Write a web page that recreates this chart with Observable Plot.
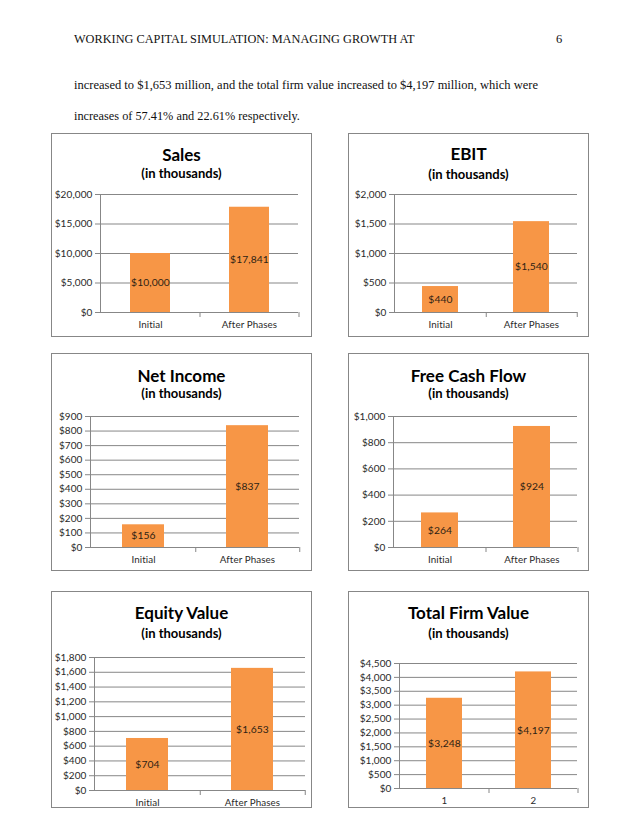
<!DOCTYPE html>
<html>
<head>
<meta charset="utf-8">
<script src="https://cdn.jsdelivr.net/npm/d3@7"></script>
<script src="https://cdn.jsdelivr.net/npm/@observablehq/plot@0.6"></script>
<style>
  html, body { margin: 0; padding: 0; background: #fff; }
  #page { position: relative; width: 638px; height: 826px; background: #fff; overflow: hidden; }
  .serif { position: absolute; font-family: "Liberation Serif", "Times New Roman", serif; color: #111; white-space: nowrap; }
  .panel { position: absolute; box-sizing: border-box; border: 1.3px solid #878787; background: #fff; }
  .ttl { position: absolute; font-family: Lato, "Open Sans", sans-serif; font-weight: 700; color: #000; text-align: center; white-space: nowrap; transform: translate(-50%, -50%); }
  .chart { position: absolute; }
</style>
</head>
<body>
<div id="page"></div>
<script>
// ---- data ----
const categories = ["Initial", "After Phases"];
const firmCategories = ["1", "2"];
const salesValues = [10000, 17841];
const ebitValues = [440, 1540];
const netIncomeValues = [156, 837];
const fcfValues = [264, 924];
const equityValues = [704, 1653];
const firmValues = [3248, 4197];
const salesTicks = [0, 5000, 10000, 15000, 20000];
const ebitTicks = [0, 500, 1000, 1500, 2000];
const netIncomeTicks = [0, 100, 200, 300, 400, 500, 600, 700, 800, 900];
const fcfTicks = [0, 200, 400, 600, 800, 1000];
const equityTicks = [0, 200, 400, 600, 800, 1000, 1200, 1400, 1600, 1800];
const firmTicks = [0, 500, 1000, 1500, 2000, 2500, 3000, 3500, 4000, 4500];
const titles = ["Sales", "EBIT", "Net Income", "Free Cash Flow", "Equity Value", "Total Firm Value"];
const subtitle = "(in thousands)";

// ---- layout (page pixels) ----
const layout = [
  {box: {x: 51, y: 133, w: 261, h: 204}, plot: {l: 100, r: 298, t: 194, b: 312}, ty: 154, sy: 173},
  {box: {x: 348, y: 133, w: 241, h: 204}, plot: {l: 394, r: 577, t: 194, b: 312}, ty: 153, sy: 174},
  {box: {x: 51, y: 353, w: 261, h: 218}, plot: {l: 90, r: 299, t: 416, b: 547}, ty: 375, sy: 393},
  {box: {x: 348, y: 353, w: 241, h: 218}, plot: {l: 393, r: 577, t: 416, b: 547}, ty: 375, sy: 393},
  {box: {x: 51, y: 591, w: 261, h: 217}, plot: {l: 94, r: 305, t: 657, b: 790}, ty: 612, sy: 633},
  {box: {x: 348, y: 591, w: 241, h: 217}, plot: {l: 399, r: 577, t: 663, b: 788}, ty: 612, sy: 633}
];

const series = [
  {cats: categories, values: salesValues, ticks: salesTicks},
  {cats: categories, values: ebitValues, ticks: ebitTicks},
  {cats: categories, values: netIncomeValues, ticks: netIncomeTicks},
  {cats: categories, values: fcfValues, ticks: fcfTicks},
  {cats: categories, values: equityValues, ticks: equityTicks},
  {cats: firmCategories, values: firmValues, ticks: firmTicks}
];

const page = document.getElementById("page");
function addDiv(cls, css, text) {
  const d = document.createElement("div");
  d.className = cls;
  Object.assign(d.style, css);
  if (text != null) d.textContent = text;
  page.appendChild(d);
  return d;
}

// header and body text
addDiv("serif", {left: "74px", top: "32px", fontSize: "12.3px"}, "WORKING CAPITAL SIMULATION: MANAGING GROWTH AT");
addDiv("serif", {left: "556px", top: "32px", fontSize: "12.5px"}, "6");
addDiv("serif", {left: "74px", top: "78px", fontSize: "12.5px", width: "464px", textAlign: "justify", textAlignLast: "justify", whiteSpace: "normal"},
  "increased to $1,653 million,  and the total firm  value  increased to $4,197 million,  which  were");
addDiv("serif", {left: "74px", top: "109px", fontSize: "12.3px"}, "increases  of 57.41% and 22.61% respectively.");

const gray = "#878787";
const fmt = d => "$" + d3.format(",")(d);

series.forEach((s, i) => {
  const L = layout[i];
  const {box, plot} = L;
  addDiv("panel", {left: box.x + "px", top: box.y + "px", width: box.w + "px", height: box.h + "px"});
  addDiv("ttl", {left: (box.x + box.w / 2) + "px", top: L.ty + "px", fontSize: "17px"}, titles[i]);
  addDiv("ttl", {left: (box.x + box.w / 2) + "px", top: L.sy + "px", fontSize: "13px"}, subtitle);

  const data = s.cats.map((c, k) => ({cat: c, value: s.values[k]}));
  const mt = 10;
  const top = plot.t - mt;
  const height = box.y + box.h - 2 - top;
  const width = box.w - 2;
  const step = (plot.r - plot.l) / s.cats.length;
  const svg = Plot.plot({
    width, height,
    marginTop: mt,
    marginLeft: plot.l - box.x - 1,
    marginRight: box.x + box.w - 1 - plot.r,
    marginBottom: box.y + box.h - 2 - plot.b,
    style: {fontFamily: "Lato, 'Open Sans', sans-serif", fontSize: "10px", letterSpacing: "0.1px", color: "#2a2a2a", background: "transparent", overflow: "visible"},
    x: {type: "band", domain: s.cats, paddingInner: 0.6, paddingOuter: 0.3, label: null},
    y: {domain: [0, s.ticks[s.ticks.length - 1]], label: null},
    marks: [
      Plot.gridY(s.ticks.slice(1), {stroke: gray, strokeOpacity: 1, strokeWidth: 1}),
      Plot.barY(data, {x: "cat", y: "value", fill: "#F79646"}),
      Plot.text(data, {x: "cat", y: d => d.value / 2, text: d => fmt(d.value), fill: "#2e1f14", fontSize: 10.3}),
      Plot.ruleY([0], {stroke: gray}),
      Plot.frame({anchor: "left", stroke: gray}),
      Plot.axisY({ticks: s.ticks, tickFormat: fmt, tickSize: 5, tickPadding: 3, stroke: gray, label: null}),
      Plot.axisX({tickSize: 0, tickPadding: 9, fontSize: 9.8, label: null}),
      Plot.axisX({tickSize: 5, tickFormat: () => "", dx: step / 2, stroke: gray, label: null})
    ]
  });
  svg.classList.add("chart");
  svg.style.left = (box.x + 1) + "px";
  svg.style.top = top + "px";
  page.appendChild(svg);
});
</script>
</body>
</html>
